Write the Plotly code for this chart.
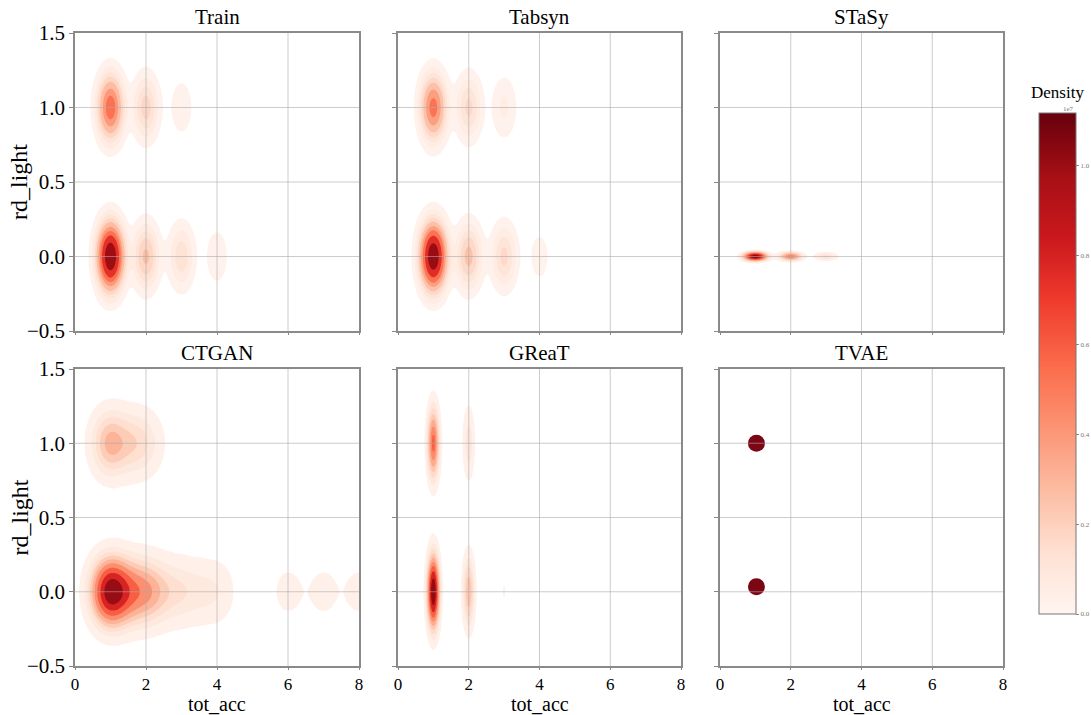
import numpy as np
import plotly.graph_objects as go

# ---------------- data ----------------
panel_titles = ["Train", "Tabsyn", "STaSy", "CTGAN", "GReaT", "TVAE"]

# Each KDE panel: support points (tot_acc, rd_light), relative weight, kernel bandwidth (x, y)
train_tot_acc = [1, 2, 3, 4, 1, 2, 3]
train_rd_light = [0, 0, 0, 0, 1, 1, 1]
train_weight = [1.0, 0.22, 0.13, 0.04, 0.50, 0.17, 0.04]
train_bw = [0.22, 0.13]

tabsyn_tot_acc = [1, 2, 3, 4, 1, 2, 3]
tabsyn_rd_light = [0, 0, 0, 0, 1, 1, 1]
tabsyn_weight = [1.0, 0.22, 0.15, 0.03, 0.45, 0.15, 0.06]
tabsyn_bw = [0.22, 0.13]

stasy_tot_acc = [1, 2, 3]
stasy_rd_light = [0, 0, 0]
stasy_weight = [1.0, 0.45, 0.15]
stasy_bw = [0.20, 0.018]

ctgan_tot_acc = [1, 1.5, 2, 2.5, 3, 3.5, 4, 6, 7, 8, 1, 1.6, 2]
ctgan_rd_light = [0, 0, 0, 0, 0, 0, 0, 0, 0, 0, 1, 1, 1]
ctgan_weight = [1.0, 0.35, 0.30, 0.12, 0.09, 0.06, 0.06,
                0.035, 0.035, 0.035, 0.30, 0.13, 0.08]
ctgan_bw = [0.32, 0.13]

great_tot_acc = [1, 2, 3, 1, 2]
great_rd_light = [0, 0, 0, 1, 1]
great_weight = [1.0, 0.25, 0.02, 0.50, 0.10]
great_bw = [0.10, 0.14]

# TVAE collapses onto two points
tvae_tot_acc = [1.03, 1.03]
tvae_rd_light = [1.0, 0.034]

density_max = 1.117  # colorbar maximum, in units of 1e7
cbar_ticks = [0.0, 0.2, 0.4, 0.6, 0.8, 1.0]
x_ticks = [0, 2, 4, 6, 8]
y_ticks = [-0.5, 0.0, 0.5, 1.0, 1.5]

# ---------------- helpers ----------------
REDS = ['#fff5f0', '#fee0d2', '#fcbba1', '#fc9272', '#fb6a4a',
        '#ef3b2c', '#cb181d', '#a50f15', '#67000d']


def hex2rgb(h):
    return np.array([int(h[i:i + 2], 16) for i in (1, 3, 5)], dtype=float)


def reds(t):
    t = min(max(t, 0.0), 1.0)
    pos = t * (len(REDS) - 1)
    i = min(int(pos), len(REDS) - 2)
    f = pos - i
    c = hex2rgb(REDS[i]) * (1 - f) + hex2rgb(REDS[i + 1]) * f
    return 'rgb(%d,%d,%d)' % tuple(int(v) for v in np.round(c))


def kde(xs, ys, ws, bw):
    sx, sy = bw
    gx = np.arange(min(xs) - 4.5 * sx, max(xs) + 4.5 * sx, sx / 7)
    gy = np.arange(min(ys) - 4.5 * sy, max(ys) + 4.5 * sy, sy / 7)
    X, Y = np.meshgrid(gx, gy)
    Z = np.zeros_like(X)
    for x0, y0, w in zip(xs, ys, ws):
        Z += w * np.exp(-0.5 * (((X - x0) / sx) ** 2 + ((Y - y0) / sy) ** 2))
    return gx, gy, Z


def iso_levels(Z, n=10, thresh=0.05):
    props = np.linspace(thresh, 1, n)
    vals = np.sort(Z.ravel())[::-1]
    cum = np.cumsum(vals) / vals.sum()
    idx = np.searchsorted(cum, 1 - props)
    return np.take(vals, idx, mode="clip")


def contour_trace(xs, ys, ws, bw, xa, ya):
    gx, gy, Z = kde(xs, ys, ws, bw)
    L = iso_levels(Z)
    L = np.maximum.accumulate(L + np.arange(len(L)) * 1e-12)
    zt = np.interp(Z, np.concatenate([[0.0], L]), np.arange(-1, len(L)))
    mids = 0.5 * (L[:-1] + L[1:])
    band_cols = [reds((m - L[0]) / (L[-1] - L[0])) for m in mids]
    cols = ['rgba(255,255,255,0)'] + band_cols + [band_cols[-1]]
    cs = []
    for k, c in enumerate(cols):
        lo = round(max(0.0, k / 10 - 0.05), 4)
        hi = round(min(1.0, k / 10 + 0.05), 4)
        cs.append([lo, c])
        cs.append([hi, c])
    return go.Contour(
        x=np.round(gx, 4), y=np.round(gy, 4), z=np.round(zt, 3),
        xaxis=xa, yaxis=ya,
        contours=dict(start=0, end=9, size=1, coloring='fill'),
        colorscale=cs, zmin=-0.5, zmax=9.5, showscale=False,
        line=dict(width=0, smoothing=1), hoverinfo='skip')


# ---------------- figure ----------------
W, H = 1091, 715
col_px = [(75, 359), (398, 681), (720, 1003)]
row_px = [(33, 331), (369, 666)]
FONT = "Liberation Serif"

fig = go.Figure()

panels = [
    (train_tot_acc, train_rd_light, train_weight, train_bw),
    (tabsyn_tot_acc, tabsyn_rd_light, tabsyn_weight, tabsyn_bw),
    (stasy_tot_acc, stasy_rd_light, stasy_weight, stasy_bw),
    (ctgan_tot_acc, ctgan_rd_light, ctgan_weight, ctgan_bw),
    (great_tot_acc, great_rd_light, great_weight, great_bw),
    None,
]

annotations = []
shapes = []
for i in range(6):
    r, c = divmod(i, 3)
    n = '' if i == 0 else str(i + 1)
    xa, ya = 'x' + n, 'y' + n
    x0p, x1p = col_px[c]
    y0p, y1p = row_px[r]
    fig.layout['xaxis' + n] = dict(
        domain=[x0p / W, x1p / W], anchor=ya, range=[0, 8], automargin=False,
        tickvals=x_ticks, ticktext=[str(v) for v in x_ticks],
        showticklabels=(r == 1), ticks='outside', ticklen=2, tickcolor='#888',
        ticklabelstandoff=0,
        showgrid=False, zeroline=False, showline=True, mirror=True,
        linecolor='#8a8a8a', linewidth=1.5,
        tickfont=dict(family=FONT, size=17, color='black'))
    fig.layout['yaxis' + n] = dict(
        domain=[1 - y1p / H, 1 - y0p / H], anchor=xa, range=[-0.5, 1.5], automargin=False,
        tickvals=y_ticks, ticktext=['\u22120.5', '0.0', '0.5', '1.0', '1.5'],
        showticklabels=(c == 0), ticks='outside', ticklen=4, tickcolor='#888',
        showgrid=False, zeroline=False, showline=True, mirror=True,
        linecolor='#8a8a8a', linewidth=1.5,
        tickfont=dict(family=FONT, size=21, color='black'))
    if panels[i] is not None:
        fig.add_trace(contour_trace(*panels[i], xa, ya))
    else:
        fig.add_trace(go.Scatter(
            x=tvae_tot_acc, y=tvae_rd_light, xaxis=xa, yaxis=ya, mode='markers',
            marker=dict(size=17, color='#7d0614', line=dict(width=0)),
            hoverinfo='skip', showlegend=False))
    # gridlines drawn above the densities
    for gv in x_ticks[1:-1]:
        shapes.append(dict(type='line', xref=xa, yref=ya, x0=gv, x1=gv,
                           y0=y_ticks[0], y1=y_ticks[-1], layer='above',
                           line=dict(color='rgba(170,170,170,0.6)', width=1)))
    for gv in y_ticks[1:-1]:
        shapes.append(dict(type='line', xref=xa, yref=ya, y0=gv, y1=gv,
                           x0=x_ticks[0], x1=x_ticks[-1], layer='above',
                           line=dict(color='rgba(170,170,170,0.6)', width=1)))
    annotations.append(dict(text=panel_titles[i], xref='paper', yref='paper',
                            x=(x0p + x1p) / 2 / W, y=1 - (y0p - 16) / H,
                            showarrow=False, font=dict(family=FONT, size=21, color='black'),
                            xanchor='center', yanchor='middle'))
    if r == 1:
        annotations.append(dict(text='tot_acc', xref='paper', yref='paper',
                                x=(x0p + x1p) / 2 / W, y=0, borderpad=0,
                                showarrow=False, font=dict(family=FONT, size=20, color='black'),
                                xanchor='center', yanchor='bottom', yshift=-1))
    if c == 0:
        annotations.append(dict(text='rd_light', xref='paper', yref='paper',
                                x=19 / W, y=1 - (y0p + y1p) / 2 / H, textangle=-90,
                                showarrow=False, font=dict(family=FONT, size=24, color='black'),
                                xanchor='center', yanchor='middle'))

# colorbar carrier
reds_scale = [[k / (len(REDS) - 1), col] for k, col in enumerate(REDS)]
fig.add_trace(go.Scatter(
    x=[None], y=[None], mode='markers', showlegend=False, hoverinfo='skip',
    marker=dict(color=[0], cmin=0, cmax=density_max, colorscale=reds_scale,
                showscale=True,
                colorbar=dict(x=1039 / W, xanchor='left', y=1 - 113 / H, yanchor='top',
                              thickness=37, thicknessmode='pixels',
                              len=501, lenmode='pixels', xpad=0, ypad=0,
                              outlinecolor='#777', outlinewidth=1,
                              tickvals=cbar_ticks, ticktext=['%.1f' % v for v in cbar_ticks],
                              ticks='outside', ticklen=3, tickcolor='#888',
                              tickfont=dict(family=FONT, size=7, color='#777')))))

annotations.append(dict(text='Density', xref='paper', yref='paper', x=1057 / W, y=1 - 92 / H,
                        showarrow=False, font=dict(family=FONT, size=17, color='black'),
                        xanchor='center', yanchor='middle'))
annotations.append(dict(text='1e7', xref='paper', yref='paper', x=1076 / W, y=1 - 109 / H,
                        showarrow=False, font=dict(family=FONT, size=7, color='#777'),
                        xanchor='right', yanchor='middle'))

fig.update_layout(width=W, height=H,
                  margin=dict(l=0, r=0, t=0, b=0, pad=0, autoexpand=False),
                  paper_bgcolor='white', plot_bgcolor='white',
                  showlegend=False, annotations=annotations, shapes=shapes)

fig.write_html("out.html")
